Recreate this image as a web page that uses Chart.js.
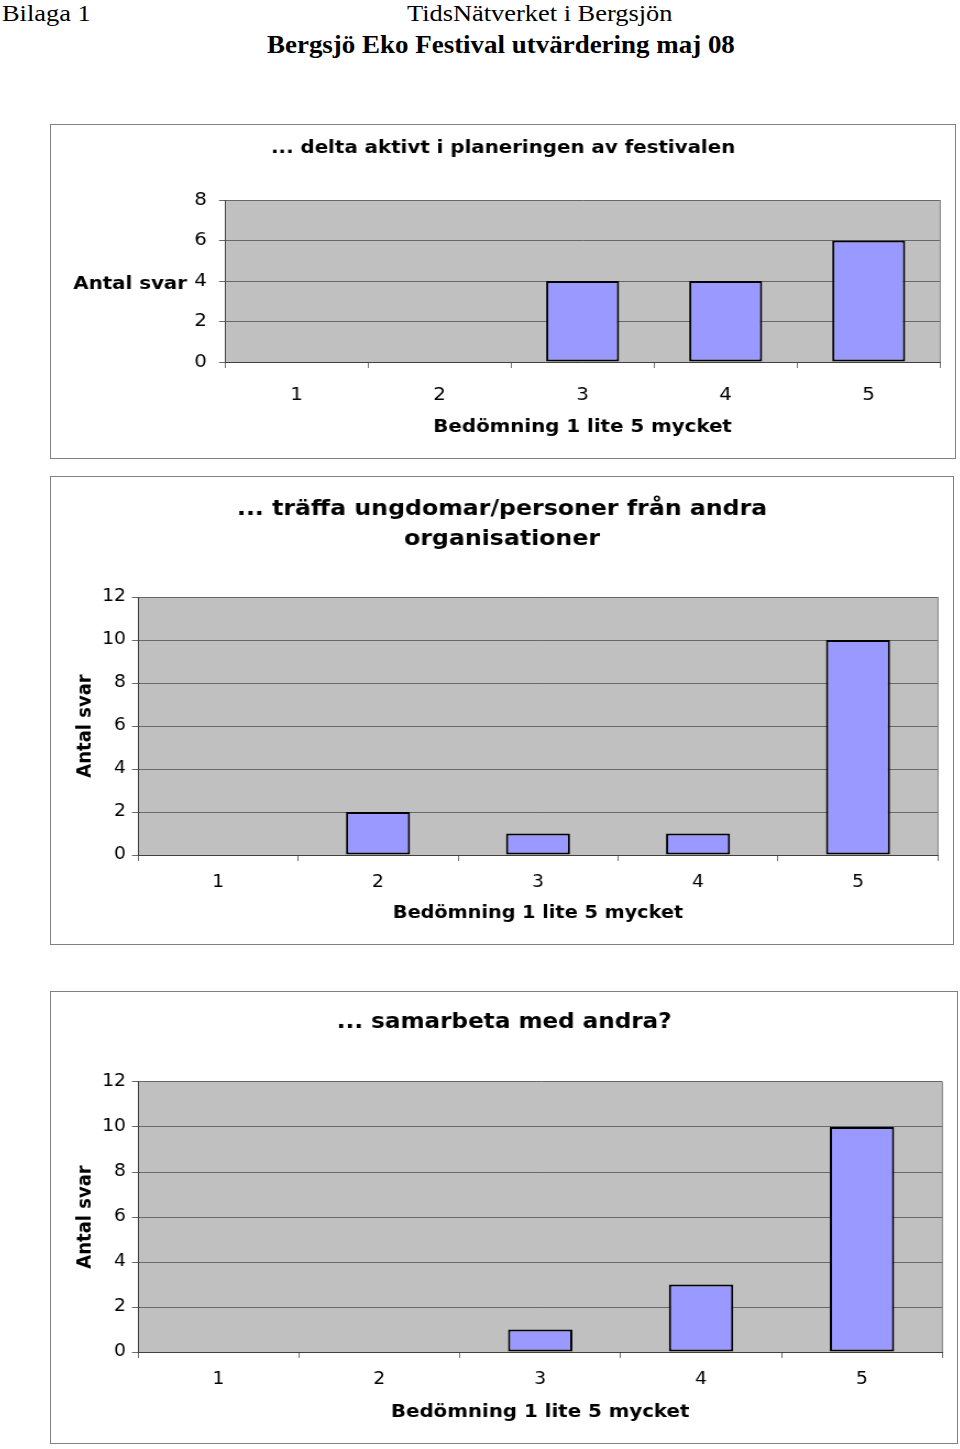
<!DOCTYPE html>
<html>
<head>
<meta charset="utf-8">
<script src="https://cdn.jsdelivr.net/npm/chart.js@4"></script>
<style>
  body { margin: 0; background: #fff; width: 960px; height: 1449px; position: relative; overflow: hidden; }
  .hdr { position: absolute; font-family: "Liberation Serif", serif; font-size: 24px; line-height: 1;
         white-space: nowrap; transform: scaleX(1.1); transform-origin: left top; color: #000; }
  .box { position: absolute; border: 1px solid #808080; box-sizing: border-box; background: #fff; }
  .wrap { position: absolute; left: 0; top: 0; transform-origin: left top; }
</style>
</head>
<body>
<div class="hdr" style="left:2px;top:1px">Bilaga 1</div>
<div class="hdr" style="left:407px;top:1px">TidsNätverket i Bergsjön</div>
<div class="hdr" style="left:267px;top:33px;font-weight:bold;font-size:24.5px">Bergsjö Eko Festival utvärdering maj 08</div>

<script>
// the scanned page is stretched sideways, so the charts are drawn narrow and widened with CSS
const S = 1.1;
const FONT = '"DejaVu Sans", Verdana, sans-serif';

const categories = ['1', '2', '3', '4', '5'];
const planeringValues = [0, 0, 4, 4, 6];
const traffaValues = [0, 2, 1, 1, 10];
const samarbetaValues = [0, 0, 1, 3, 10];

const yAxisLabel = 'Antal svar';
const xAxisLabel = 'Bedömning 1 lite 5 mycket';
const planeringTitle = '... delta aktivt i planeringen av festivalen';
const traffaTitle = ['... träffa ungdomar/personer från andra', 'organisationer'];
const samarbetaTitle = '... samarbeta med andra?';

// grey plot area with a light frame on the right, like the Excel charts
const plotBg = {
  id: 'plotBg',
  beforeDraw(chart) {
    const { ctx, chartArea: a } = chart;
    ctx.save();
    ctx.fillStyle = '#c0c0c0';
    ctx.fillRect(a.left, a.top, a.right - a.left, a.bottom - a.top);
    ctx.restore();
  },
  beforeDatasetsDraw(chart) {
    const { ctx, chartArea: a } = chart;
    ctx.save();
    ctx.strokeStyle = '#808080';
    ctx.lineWidth = 1;
    ctx.beginPath();
    ctx.moveTo(a.right, a.top);
    ctx.lineTo(a.right, a.bottom);
    ctx.stroke();
    ctx.restore();
  }
};

// horizontal y label of the first chart, sitting next to one tick
const sideLabel = {
  id: 'sideLabel',
  afterDraw(chart, args, opts) {
    if (!opts.text) return;
    const ctx = chart.ctx;
    const y = chart.scales.y.getPixelForValue(opts.value) + opts.dy;
    ctx.save();
    ctx.font = 'bold ' + opts.size + 'px ' + FONT;
    ctx.fillStyle = '#000';
    ctx.textAlign = 'right';
    ctx.textBaseline = 'middle';
    ctx.fillText(opts.text, opts.x, y);
    ctx.restore();
  }
};

function buildChart(spec) {
  const [bl, bt, bw, bh] = spec.box;
  const ox = bl + 1, oy = bt + 1, cw = bw - 2, ch = bh - 2;

  const box = document.createElement('div');
  box.className = 'box';
  box.style.left = bl + 'px';
  box.style.top = bt + 'px';
  box.style.width = bw + 'px';
  box.style.height = bh + 'px';
  const wrap = document.createElement('div');
  wrap.className = 'wrap';
  wrap.style.transform = 'scaleX(' + S + ')';
  const canvas = document.createElement('canvas');
  canvas.width = Math.round(cw / S);
  canvas.height = ch;
  wrap.appendChild(canvas);
  box.appendChild(wrap);
  document.body.appendChild(box);

  const side = (ox + cw - spec.plot.right) / S;          // same margin left and right keeps the title centred
  const yAxisW = (spec.plot.left - ox) / S - side;
  const titleLines = Array.isArray(spec.title) ? spec.title.length : 1;
  const titleLH = spec.titleGap;
  const titlePadTop = (spec.titleY - oy) - titleLH / 2;
  const titlePadBottom = (spec.plot.top - oy) - titlePadTop - titleLH * titleLines;
  const xAxisH = (oy + ch) - spec.plot.bottom;
  const xTickLH = spec.tickSize * 1.2;
  const xTitleLH = spec.xTitleSize * 1.2;

  const yTitle = spec.sideLabel ? { display: false } : {
    display: true,
    text: yAxisLabel,
    color: '#000',
    font: { family: FONT, size: spec.yTitleSize, weight: 'bold', lineHeight: 1.2 },
    padding: { top: (spec.yTitleX - ox) / S - side - spec.yTitleSize * 0.6, bottom: 0 }
  };

  return new Chart(canvas, {
    type: 'bar',
    data: {
      labels: categories,
      datasets: [{
        data: spec.values,
        backgroundColor: '#9999ff',
        borderColor: '#000',
        borderWidth: 2,
        borderSkipped: false,
        barPercentage: spec.barWidth,
        categoryPercentage: 1
      }]
    },
    options: {
      responsive: false,
      animation: false,
      layout: { padding: { left: side, right: side, top: 0, bottom: 0 } },
      plugins: {
        legend: { display: false },
        tooltip: { enabled: false },
        title: {
          display: true,
          text: spec.title,
          color: '#000',
          font: { family: FONT, size: spec.titleSize, weight: 'bold', lineHeight: titleLH / spec.titleSize },
          padding: { top: titlePadTop, bottom: titlePadBottom }
        },
        sideLabel: spec.sideLabel || {}
      },
      scales: {
        x: {
          afterFit(scale) { scale.height = xAxisH; },
          grid: { drawOnChartArea: false, drawTicks: true, tickLength: 6, color: '#707070' },
          border: { color: '#404040', width: 1 },
          ticks: {
            color: '#000',
            font: { family: FONT, size: spec.tickSize },
            padding: (spec.xLabelY - spec.plot.bottom) - 6 - xTickLH / 2
          },
          title: {
            display: true,
            text: xAxisLabel,
            color: '#000',
            font: { family: FONT, size: spec.xTitleSize, weight: 'bold', lineHeight: 1.2 },
            padding: { top: 0, bottom: (oy + ch - spec.xTitleY) - xTitleLH / 2 }
          }
        },
        y: {
          min: 0,
          max: spec.yMax,
          afterFit(scale) { scale.width = yAxisW; },
          grid: { color: '#686868', lineWidth: 1, tickLength: 6 / S },
          border: { color: '#404040', width: 1 },
          ticks: {
            stepSize: spec.yStep,
            color: '#000',
            font: { family: FONT, size: spec.yTickSize },
            padding: spec.yTickPad / S
          },
          title: yTitle
        }
      }
    },
    plugins: [plotBg, sideLabel]
  });
}

buildChart({
  box: [50, 124, 906, 335],
  plot: { left: 225, right: 940, top: 200, bottom: 362 },
  values: planeringValues,
  title: planeringTitle, titleSize: 18, titleGap: 21.6, titleY: 148,
  yMax: 8, yStep: 2, yTickSize: 18, yTickPad: 12,
  tickSize: 18, xLabelY: 395,
  xTitleSize: 18, xTitleY: 427,
  barWidth: 0.51,
  sideLabel: { text: yAxisLabel, value: 4, dy: 3, size: 18, x: (187 - 51) / S }
});

buildChart({
  box: [50, 476, 904, 469],
  plot: { left: 138, right: 938, top: 597, bottom: 855 },
  values: traffaValues,
  title: traffaTitle, titleSize: 21.5, titleGap: 30, titleY: 509,
  yMax: 12, yStep: 2, yTickSize: 17, yTickPad: 6,
  tickSize: 17, xLabelY: 883,
  xTitleSize: 17.5, xTitleY: 913,
  yTitleSize: 18, yTitleX: 86,
  barWidth: 0.4
});

buildChart({
  box: [50, 991, 908, 453],
  plot: { left: 138, right: 942, top: 1082, bottom: 1352 },
  values: samarbetaValues,
  title: samarbetaTitle, titleSize: 21, titleGap: 25.2, titleY: 1023,
  yMax: 12, yStep: 2, yTickSize: 17, yTickPad: 6,
  tickSize: 17, xLabelY: 1380,
  xTitleSize: 18, xTitleY: 1412,
  yTitleSize: 18, yTitleX: 86,
  barWidth: 0.4
});
</script>
</body>
</html>
